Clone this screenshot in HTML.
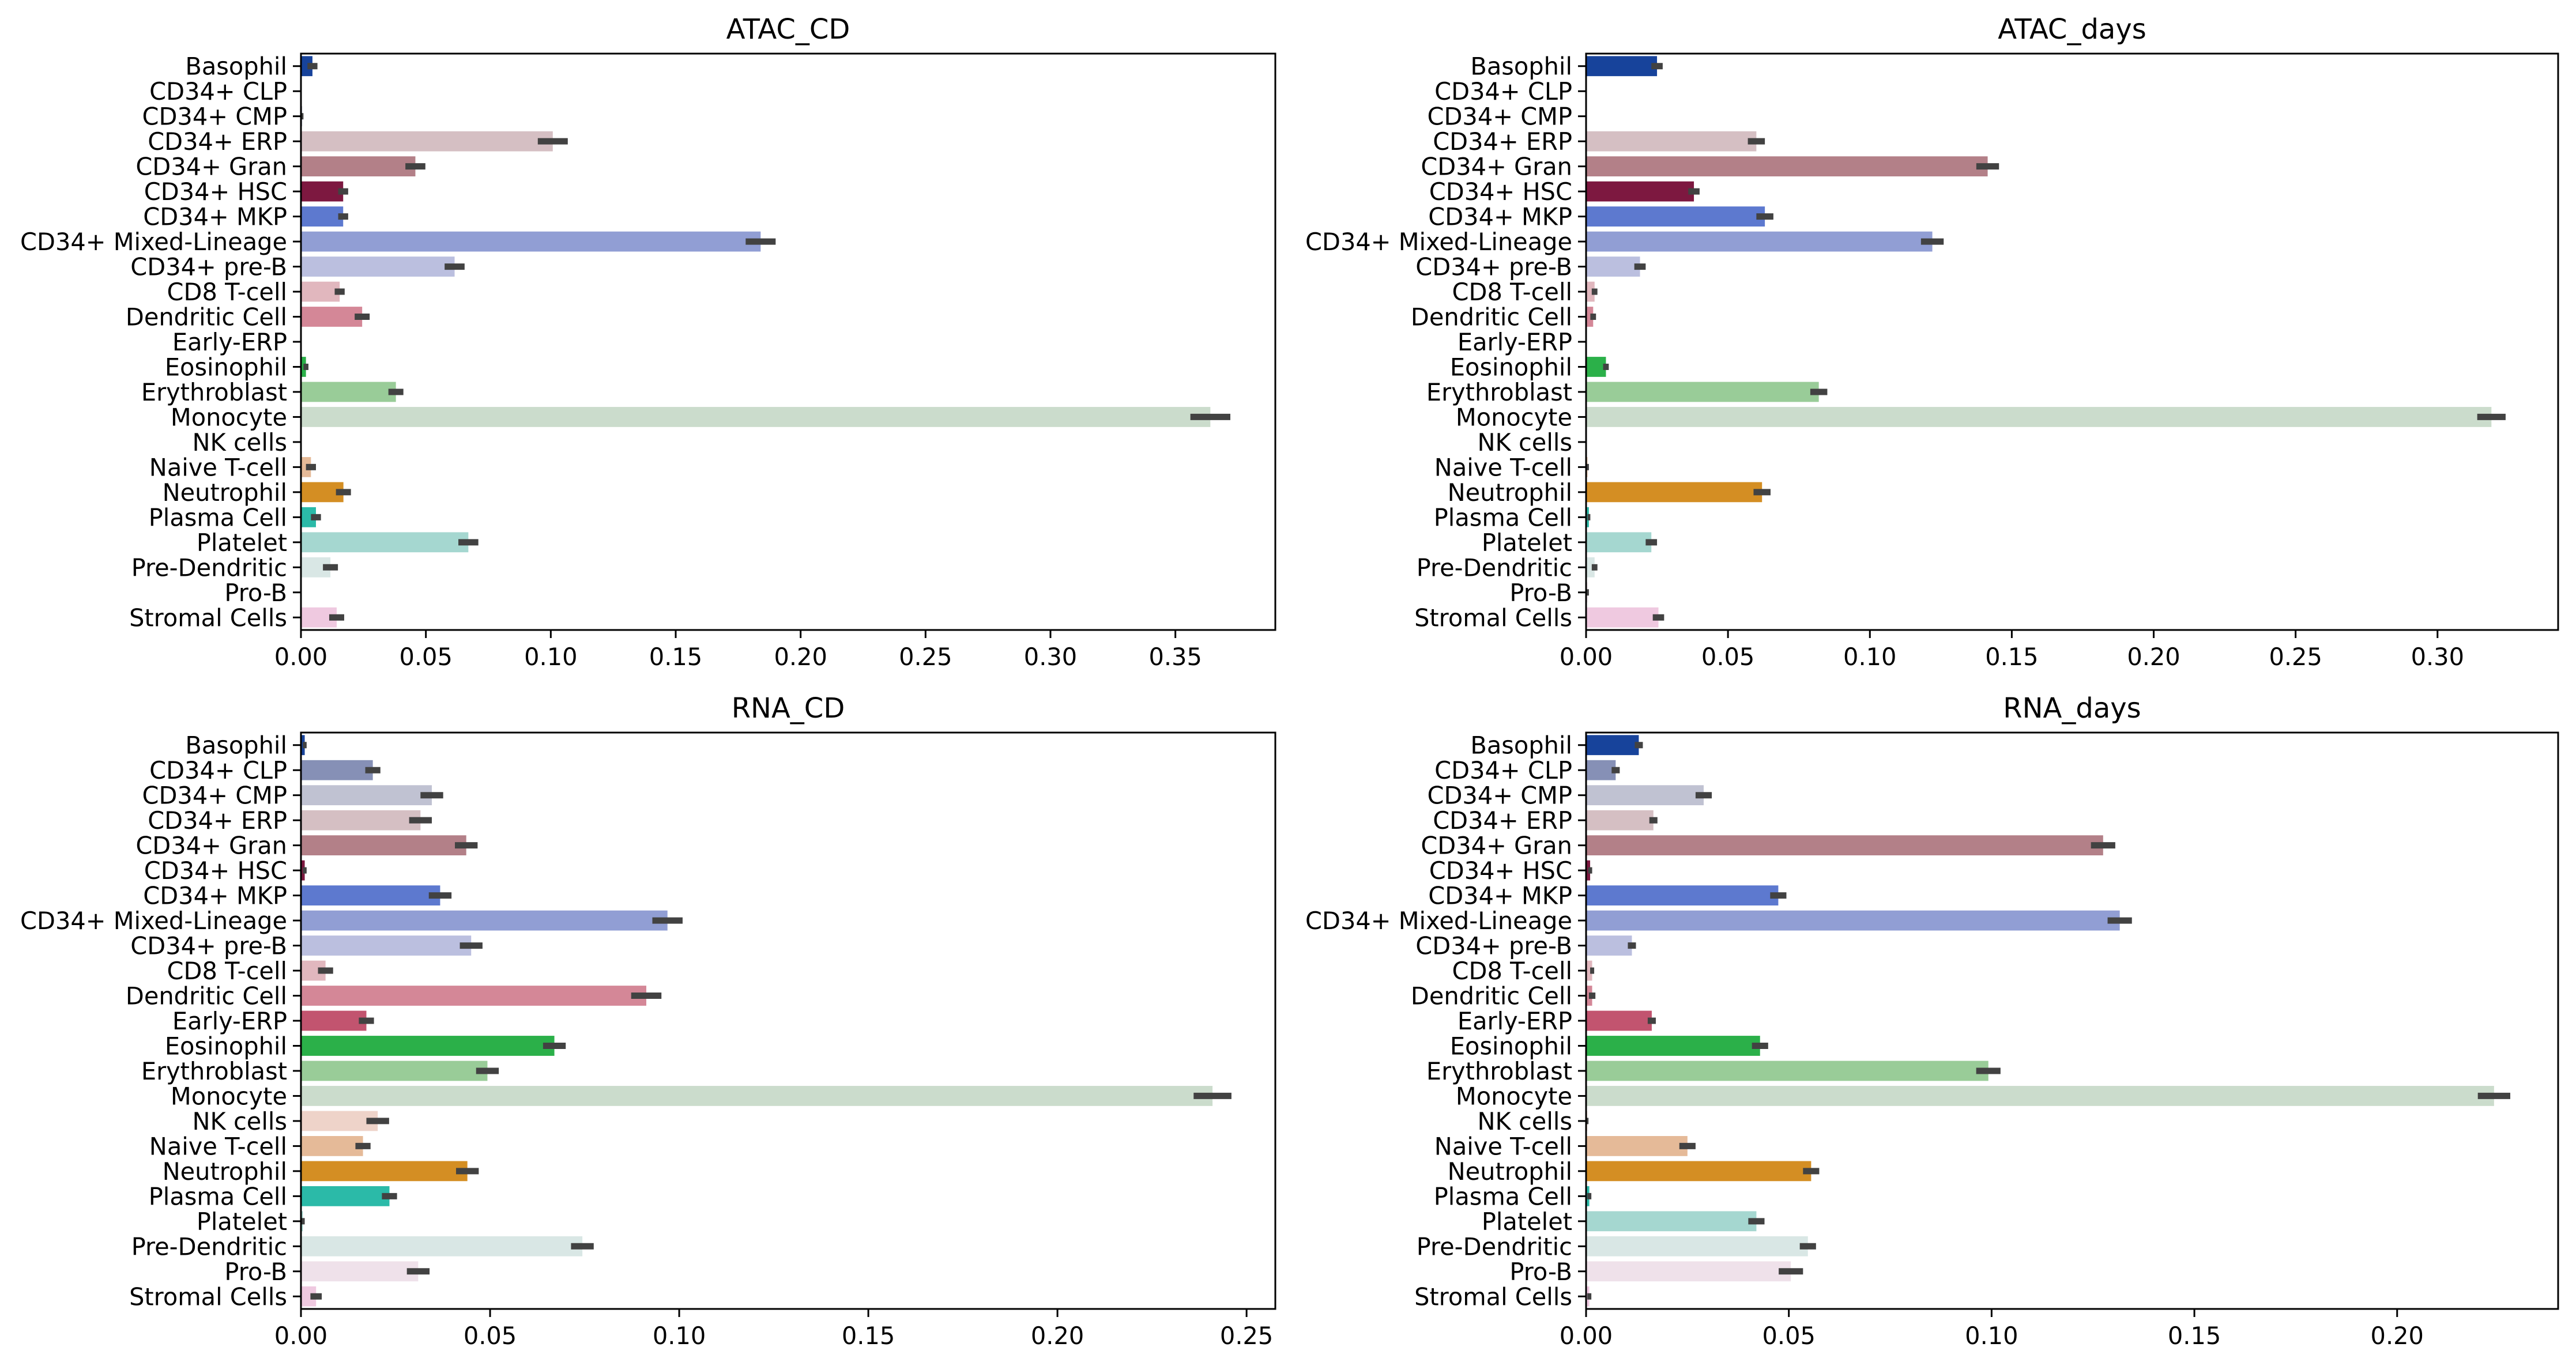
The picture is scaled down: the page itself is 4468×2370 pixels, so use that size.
<!DOCTYPE html>
<html><head><meta charset="utf-8"><style>
html,body{margin:0;padding:0;background:#fff;}
svg{display:block;font-family:"DejaVu Sans","Liberation Sans",sans-serif;}
</style></head><body>
<svg id="fig" width="4468" height="2370" viewBox="0 0 4468 2370" xmlns="http://www.w3.org/2000/svg"></svg>
<script>
const categories=["Basophil","CD34+ CLP","CD34+ CMP","CD34+ ERP","CD34+ Gran","CD34+ HSC","CD34+ MKP","CD34+ Mixed-Lineage","CD34+ pre-B","CD8 T-cell","Dendritic Cell","Early-ERP","Eosinophil","Erythroblast","Monocyte","NK cells","Naive T-cell","Neutrophil","Plasma Cell","Platelet","Pre-Dendritic","Pro-B","Stromal Cells"];
const colors=["#17439b","#8690b6","#c0c2d2","#d5bfc3","#b38088","#7d1840","#5d79cf","#919ed4","#bbbfdf","#e1b7be","#d48797","#c2546f","#2bb049","#99cc98","#cbdccc","#eed3c9","#e5ba98","#d48e23","#2bbaa8","#a5d7d0","#d9e7e5","#efe1ea","#efc9e0"];
const atacCdVals=[0.0046,0,0.0005,0.1008,0.0458,0.0169,0.0169,0.184,0.0615,0.0155,0.0245,0,0.002,0.038,0.364,0,0.004,0.017,0.006,0.067,0.0118,0,0.0143];
const atacCdErr=[0.002,0,0.0005,0.006,0.004,0.002,0.002,0.006,0.004,0.002,0.003,0,0.001,0.003,0.008,0,0.002,0.003,0.002,0.004,0.003,0,0.003];
const atacDaysVals=[0.025,0,0,0.060,0.1415,0.038,0.063,0.122,0.019,0.003,0.0025,0,0.007,0.082,0.319,0,0.0005,0.062,0.001,0.023,0.003,0.0005,0.0255];
const atacDaysErr=[0.002,0,0,0.003,0.004,0.002,0.003,0.004,0.002,0.001,0.001,0,0.001,0.003,0.005,0,0.0005,0.003,0.0005,0.002,0.001,0.0005,0.002];
const rnaCdVals=[0.001,0.019,0.0346,0.0316,0.0437,0.001,0.0368,0.0969,0.045,0.0065,0.0913,0.0173,0.067,0.0493,0.241,0.0203,0.0164,0.044,0.0234,0.0005,0.0744,0.031,0.004];
const rnaCdErr=[0.0005,0.002,0.003,0.003,0.003,0.0005,0.003,0.004,0.003,0.002,0.004,0.002,0.003,0.003,0.005,0.003,0.002,0.003,0.002,0.0005,0.003,0.003,0.0015];
const rnaDaysVals=[0.013,0.0073,0.029,0.0166,0.1275,0.001,0.0474,0.1316,0.0113,0.0015,0.0015,0.0162,0.0429,0.0992,0.2239,0.0003,0.025,0.0555,0.0008,0.042,0.0547,0.0505,0.0008];
const rnaDaysErr=[0.001,0.001,0.002,0.001,0.003,0.0005,0.002,0.003,0.001,0.0005,0.0008,0.001,0.002,0.003,0.004,0.0003,0.002,0.002,0.0005,0.002,0.002,0.003,0.0005];
const atacCdTicks=["0.00","0.05","0.10","0.15","0.20","0.25","0.30","0.35"];
const atacDaysTicks=["0.00","0.05","0.10","0.15","0.20","0.25","0.30"];
const rnaCdTicks=["0.00","0.05","0.10","0.15","0.20","0.25"];
const rnaDaysTicks=["0.00","0.05","0.10","0.15","0.20"];

const NS="http://www.w3.org/2000/svg";
const fig=document.getElementById('fig');
function mk(tag,attrs,parent){const e=document.createElementNS(NS,tag);for(const k in attrs)e.setAttribute(k,attrs[k]);(parent||fig).appendChild(e);return e;}

const panels=[
 {title:"ATAC_CD",name:"atac-cd",x0:522,x1:2212,y0:93,y1:1093,xmax:0.390,vals:atacCdVals,err:atacCdErr,ticks:atacCdTicks},
 {title:"ATAC_days",name:"atac-days",x0:2751,x1:4437,y0:93,y1:1093,xmax:0.3425,vals:atacDaysVals,err:atacDaysErr,ticks:atacDaysTicks},
 {title:"RNA_CD",name:"rna-cd",x0:522,x1:2212,y0:1271,y1:2271,xmax:0.2576,vals:rnaCdVals,err:rnaCdErr,ticks:rnaCdTicks},
 {title:"RNA_days",name:"rna-days",x0:2751,x1:4437,y0:1271,y1:2271,xmax:0.2397,vals:rnaDaysVals,err:rnaDaysErr,ticks:rnaDaysTicks}
];

panels.forEach(p=>{
  const g=mk('g',{});
  
  
  const xs=v=>p.x0+(v/p.xmax)*(p.x1-p.x0);
  const n=categories.length;
  const step=(p.y1-p.y0)/n;
  const yc=i=>p.y0+step*(i+0.5);
  const t=mk('text',{x:(p.x0+p.x1)/2,y:p.y0-26,'text-anchor':'middle','font-size':48},g);
  t.textContent=p.title;
  
  
  categories.forEach((c,i)=>{
    const v=p.vals[i];
    const r=mk('rect',{x:p.x0,y:yc(i)-step*0.4,width:Math.max(0,xs(v)-p.x0),height:step*0.8,fill:colors[i]},g);
    
    
    const e=p.err[i];
    if(e>0){
      const lo=Math.max(0,v-e),hi=v+e;
      const l=mk('line',{x1:xs(lo),x2:xs(hi),y1:yc(i),y2:yc(i),stroke:'#424242','stroke-width':11},g);
      
      
    }
    mk('line',{x1:p.x0-14,x2:p.x0,y1:yc(i),y2:yc(i),stroke:'#000','stroke-width':3},g);
    const lab=mk('text',{x:p.x0-24,y:yc(i)+15,'text-anchor':'end','font-size':41.5},g);
    lab.textContent=c;
    
    
  });
  p.ticks.forEach(tk=>{
    const x=xs(parseFloat(tk));
    mk('line',{x1:x,x2:x,y1:p.y1,y2:p.y1+14,stroke:'#000','stroke-width':3},g);
    const tl=mk('text',{x:x,y:p.y1+61,'text-anchor':'middle','font-size':41.5},g);
    tl.textContent=tk;
    
    
  });
  const fr=mk('rect',{x:p.x0,y:p.y0,width:p.x1-p.x0,height:p.y1-p.y0,fill:'none',stroke:'#000','stroke-width':3},g);
  
  
});
</script>
</body></html>
